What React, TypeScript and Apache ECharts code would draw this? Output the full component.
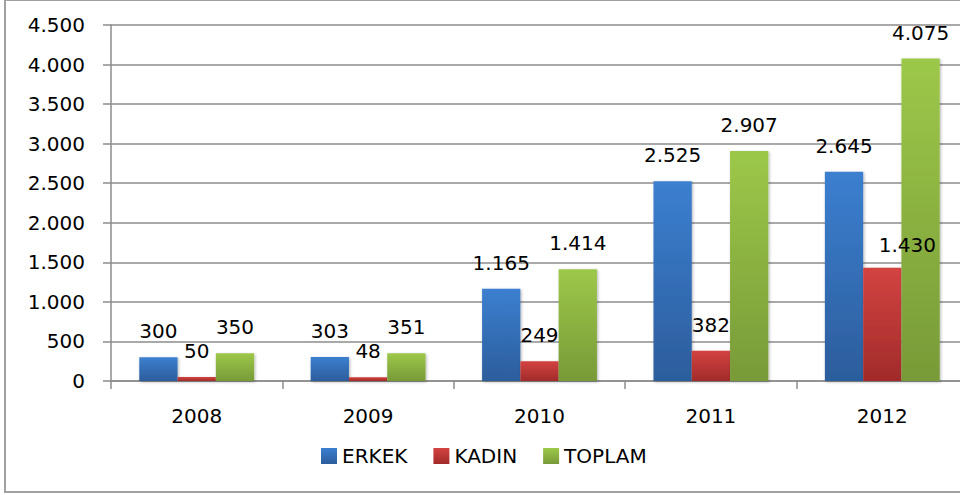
import React, { useEffect, useRef } from "react";
import * as echarts from "echarts";

const categories = ["2008", "2009", "2010", "2011", "2012"];
const erkek = [300, 303, 1165, 2525, 2645];
const kadin = [50, 48, 249, 382, 1430];
const toplam = [350, 351, 1414, 2907, 4075];
const seriesNames = ["ERKEK", "KADIN", "TOPLAM"];

const FONT = "DejaVu Sans";

const fmt = (v: number) => {
  const s = String(Math.round(v));
  return s.replace(/\B(?=(\d{3})+(?!\d))/g, ".");
};

const grad = (top: string, bottom: string) =>
  new echarts.graphic.LinearGradient(0, 0, 0, 1, [
    { offset: 0, color: top },
    { offset: 1, color: bottom },
  ]);

export default function App() {
  const ref = useRef<HTMLDivElement>(null);
  useEffect(() => {
    if (!ref.current) return;
    const chart = echarts.init(ref.current, undefined, { renderer: "svg" });
    const label = {
      show: true,
      position: "top" as const,
      distance: 16,
      color: "#000",
      fontFamily: FONT,
      fontSize: 20,
      formatter: (p: any) => fmt(p.value),
    };
    const shadow = {
      shadowBlur: 3,
      shadowColor: "rgba(0,0,0,0.3)",
      shadowOffsetX: 1,
      shadowOffsetY: 1,
    };
    chart.setOption({
      animation: false,
      backgroundColor: "#ffffff",
      textStyle: { fontFamily: FONT },
      graphic: [
        {
          type: "rect",
          shape: { x: 5, y: 0, width: 1000, height: 492 },
          style: { fill: "none", stroke: "#a0a0a0", lineWidth: 2 },
          silent: true,
          z: 100,
        },
      ],
      grid: { left: 111, right: 7, top: 25, bottom: 114 },
      legend: {
        data: seriesNames,
        left: 316,
        top: 441,
        itemWidth: 16,
        itemHeight: 16,
        itemGap: 26,
        icon: "rect",
        textStyle: { fontFamily: FONT, fontSize: 20, color: "#000" },
      },
      xAxis: {
        type: "category",
        data: categories,
        boundaryGap: true,
        axisLine: { lineStyle: { color: "#8c8c8c", width: 1.5 } },
        axisTick: { show: true, length: 8, lineStyle: { color: "#8c8c8c", width: 1.5 } },
        axisLabel: { color: "#000", fontFamily: FONT, fontSize: 20, margin: 25 },
      },
      yAxis: {
        type: "value",
        min: 0,
        max: 4500,
        interval: 500,
        axisLine: { show: true, lineStyle: { color: "#8c8c8c", width: 1.5 } },
        axisTick: { show: true, length: 8, lineStyle: { color: "#8c8c8c", width: 1.5 } },
        splitLine: { lineStyle: { color: "#8c8c8c", width: 1.5 } },
        axisLabel: {
          color: "#000",
          fontFamily: FONT,
          fontSize: 20,
          margin: 26,
          formatter: (v: number) => fmt(v),
        },
      },
      series: [
        {
          name: seriesNames[0],
          type: "bar",
          data: erkek,
          barGap: "0%",
          barCategoryGap: "33%",
          itemStyle: { color: grad("#3c7fd0", "#2c5d9c"), ...shadow },
          label,
        },
        {
          name: seriesNames[1],
          type: "bar",
          data: kadin.map((v, i) =>
            i === 4 ? { value: v, label: { offset: [25, 3] } } : v
          ),
          barGap: "0%",
          barCategoryGap: "33%",
          itemStyle: { color: grad("#d34341", "#a12b2a"), ...shadow },
          label,
        },
        {
          name: seriesNames[2],
          type: "bar",
          data: toplam,
          barGap: "0%",
          barCategoryGap: "33%",
          itemStyle: { color: grad("#9cc849", "#789a38"), ...shadow },
          label,
        },
      ],
    });
    return () => chart.dispose();
  }, []);
  return (
    <div
      style={{
        position: "fixed",
        left: 0,
        top: 0,
        width: 960,
        height: 495,
        overflow: "hidden",
        background: "#fff",
      }}
    >
      <div ref={ref} style={{ width: 975, height: 495 }} />
    </div>
  );
}
